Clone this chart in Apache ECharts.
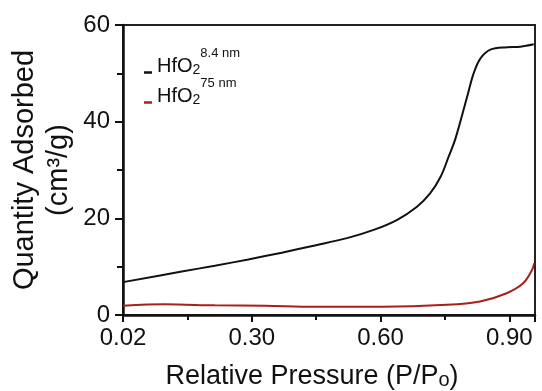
<!DOCTYPE html>
<html>
<head>
<meta charset="utf-8">
<script src="https://cdn.jsdelivr.net/npm/echarts@6/dist/echarts.min.js"></script>
<style>html,body{margin:0;padding:0;background:#fff}#chart{width:542px;height:391px}</style>
</head>
<body>
<div id="chart"></div>
<script>
"use strict";

// relative pressure in axis units (the axis starts at the 0.02 tick)
const pSmall=[0.00,0.137,0.214,0.292,0.370,0.447,0.522,0.584,0.639,0.685,0.716,0.740,0.759,0.775,0.802,0.817,0.833,0.856,0.895,0.926,0.957];
const qSmall=[6.8,9.0,10.2,11.5,12.9,14.4,15.9,17.6,19.7,22.4,25.2,28.6,32.8,36.6,45.2,50.0,53.1,54.9,55.4,55.5,56.0];
const pLarge=[0.00,0.098,0.214,0.331,0.447,0.603,0.755,0.832,0.894,0.933,0.953,0.958];
const qLarge=[1.9,2.2,2.0,1.9,1.7,1.7,2.1,2.8,4.5,6.6,9.3,10.7];
const xTicks=['0.02','0.30','0.60','0.90'];
const yTicks=[0,20,40,60];
const seriesNames=['HfO2 8.4 nm','HfO2 75 nm'];
const poreSizes=['8.4 nm','75 nm'];
const colors=['#111111','#a8201a'];

function pairs(xs,ys){
  return xs.map(function(x,i){return [x,ys[i]];});
}

const FONT='"Liberation Sans", Arial, sans-serif';
const TXT='#111';

function legendFor(i,top){
  return {
    orient:'vertical',left:144,top:top,padding:0,
    itemWidth:8,itemHeight:2.5,icon:'rect',
    data:[seriesNames[i]],
    formatter:function(){
      return '{m|HfO}{b|2}{p|'+poreSizes[i]+'}';
    },
    textStyle:{
      fontFamily:FONT,color:TXT,
      rich:{
        m:{fontSize:20,fontFamily:FONT,color:TXT,padding:[0,0,12,0]},
        b:{fontSize:14,fontFamily:FONT,color:TXT,padding:[0,0,5,0]},
        p:{fontSize:13,fontFamily:FONT,color:TXT,padding:[0,0,39,0]}
      }
    }
  };
}

const chart=echarts.init(document.getElementById('chart'));
chart.setOption({
  animation:false,
  backgroundColor:'#fff',
  grid:{left:123,right:7,top:25,bottom:76,containLabel:false,outerBoundsMode:'none',
    show:true,borderColor:'#222',borderWidth:2},
  legend:[legendFor(0,46.5),legendFor(1,76.5)],
  xAxis:{
    type:'value',min:0,max:0.96,interval:0.3,
    name:'Relative Pressure (P/P{s|o})',nameLocation:'middle',nameGap:48,nameMoveOverlap:false,
    nameTextStyle:{fontSize:27,fontFamily:FONT,color:TXT,padding:[0,34,0,0],
      rich:{s:{fontSize:20,fontFamily:FONT,color:TXT,verticalAlign:'bottom',padding:[4,0,0,0]}}},
    axisLine:{lineStyle:{color:'#111',width:2.5}},
    axisTick:{length:7,lineStyle:{color:'#111',width:2}},
    minorTick:{show:true,splitNumber:2,length:5,lineStyle:{color:'#111',width:2}},
    splitLine:{show:false},
    axisLabel:{fontSize:24,fontFamily:FONT,color:TXT,margin:11,
      formatter:function(v){
        const k=Math.round(v/0.3);
        return Math.abs(v-k*0.3)<1e-6?xTicks[k]:'';
      }}
  },
  yAxis:{
    type:'value',min:0,max:60,interval:20,
    name:'Quantity Adsorbed\n(cm³/g)',nameLocation:'middle',nameGap:47,nameRotate:90,nameMoveOverlap:false,
    nameTextStyle:{fontSize:29,fontFamily:FONT,color:TXT,lineHeight:34},
    axisLine:{show:true,lineStyle:{color:'#111',width:2.5}},
    axisTick:{show:true,length:8,lineStyle:{color:'#111',width:2}},
    minorTick:{show:true,splitNumber:2,length:6,lineStyle:{color:'#111',width:2}},
    splitLine:{show:false},
    axisLabel:{fontSize:24,fontFamily:FONT,color:TXT,margin:13,
      formatter:function(v){return yTicks.indexOf(v)>=0?String(v):'';}}
  },
  series:[
    {name:seriesNames[0],type:'line',data:pairs(pSmall,qSmall),showSymbol:false,symbol:'none',
      smooth:0.35,lineStyle:{color:colors[0],width:2},itemStyle:{color:colors[0]}},
    {name:seriesNames[1],type:'line',data:pairs(pLarge,qLarge),showSymbol:false,symbol:'none',
      smooth:0.35,lineStyle:{color:colors[1],width:2},itemStyle:{color:colors[1]}}
  ]
});
</script>
</body>
</html>
